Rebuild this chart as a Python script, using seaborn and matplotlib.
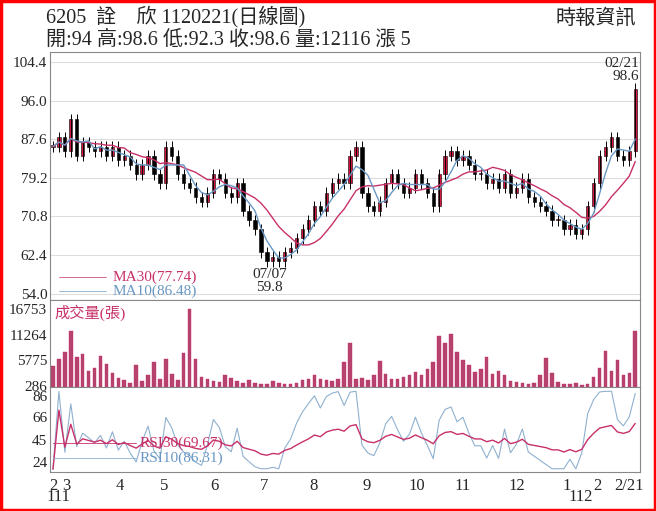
import numpy as np
import pandas as pd
import seaborn as sns
import matplotlib.pyplot as plt

# closes read roughly every ~3 trading days, Feb 2022 -> 2023/02/21
closes = [86, 88, 85, 92, 84, 87, 86, 85, 86, 84, 86, 83, 84, 82, 80, 82, 84, 80, 78, 86,
          84, 80, 78, 77, 75, 74, 76, 80, 79, 76, 75, 78, 72, 70, 68, 63, 61, 62, 61, 63,
          64, 66, 68, 70, 73, 72, 76, 78, 79, 78, 84, 86, 76, 73, 72, 74, 78, 80, 78, 76,
          77, 80, 78, 76, 73, 80, 84, 85, 83, 84, 82, 80, 80, 78, 79, 77, 80, 76, 77, 79,
          75, 74, 73, 72, 70, 70, 68, 69, 67, 68, 73, 78, 84, 86, 88, 84, 83, 85, 98.6]
volumes = [4500, 6000, 7500, 12000, 6500, 7200, 3500, 4000, 6800, 5000, 3000, 2000, 1500, 900, 4800, 1200,
           2600, 5400, 1800, 6000, 2800, 1600, 7400, 16753, 6000, 2200, 1800, 1200, 1000, 2600,
           2000, 1400, 800, 1500, 900, 700, 600, 1300, 900, 700, 600, 800, 1600, 1800, 2500, 1700,
           1500, 1400, 1700, 5500, 9500, 1700, 1900, 1500, 2600, 5600, 2800, 1800, 1700, 2200,
           2700, 3300, 2700, 3800, 5500, 11000, 9500, 11500, 7500, 5800, 4800, 3200, 3800, 6500,
           2800, 3500, 2600, 1400, 1000, 800, 700, 900, 2600, 6200, 3000, 1000, 700, 600, 800,
           500, 700, 2200, 4000, 7800, 3500, 5800, 2700, 3000, 12116]

df = pd.DataFrame({'x': np.arange(len(closes)), 'close': closes, 'vol': volumes})
df['open'] = df['close'].shift(1).fillna(df['close'])
df['ma10'] = df['close'].rolling(4, min_periods=1).mean()
df['ma30'] = df['close'].rolling(10, min_periods=1).mean()
d = df['close'].diff().fillna(0)
for n, name in [(4, 'rsi10'), (10, 'rsi30')]:
    up = d.clip(lower=0).ewm(alpha=1 / n).mean()
    dn = (-d.clip(upper=0)).ewm(alpha=1 / n).mean()
    df[name] = 100 * up / (up + dn + 1e-9)
df['rsi10'] = df['rsi10'].clip(18, 90)
df['rsi30'] = 45 + (df['rsi30'] - 50) * 0.55

sns.set_style('white')
plt.rcParams['font.family'] = ['Liberation Serif', 'Noto Sans CJK TC']
red, mag, blue = '#d4143c', '#c8306a', '#6a98c4'

fig = plt.figure(figsize=(6.56, 5.11), dpi=100)
W, H = 656, 511
def add(y0, y1):
    return fig.add_axes([50 / W, 1 - y1 / H, 590 / W, (y1 - y0) / H])
axp = add(52, 300)
axv = add(300, 387)
axr = add(387, 472)

# candles
up = df['close'] >= df['open']
body_lo = df[['open', 'close']].min(axis=1)
body_hi = df[['open', 'close']].max(axis=1)
axp.vlines(df['x'], body_lo - 1.2, body_hi + 1.2, color='black', lw=0.7)
axp.bar(df['x'], (body_hi - body_lo).clip(lower=0.3), bottom=body_lo, width=0.55,
        color=np.where(up, red, 'black'), edgecolor='black', lw=0.4)
sns.lineplot(data=df, x='x', y='ma30', ax=axp, color=mag, lw=1)
sns.lineplot(data=df, x='x', y='ma10', ax=axp, color=blue, lw=1)
axp.set_ylim(52.6, 106.6)
axp.set_yticks([54.0, 62.4, 70.8, 79.2, 87.6, 96.0, 104.4])
axp.set_yticklabels(['54.0', '62.4', '70.8', '79.2', '87.6', '96.0', '104.4'])
axp.yaxis.grid(True, color='#dddddd', lw=0.8)
axp.plot([1, 9], [57.6, 57.6], color=mag, lw=0.5)
axp.text(10, 57.6, 'MA30(77.74)', color=mag, fontsize=11, va='center')
axp.plot([1, 9], [54.6, 54.6], color=blue, lw=0.5)
axp.text(10, 54.6, 'MA10(86.48)', color=blue, fontsize=11, va='center')
axp.text(36.5, 59.6, '07/07\n59.8', ha='center', va='top', fontsize=11, linespacing=1.0)
axp.text(98.6, 99.8, '02/21\n98.6', ha='right', va='bottom', fontsize=11, linespacing=1.0)

sns.barplot(data=df, x='x', y='vol', ax=axv, native_scale=True, color=mag,
            width=0.6, edgecolor=mag, lw=0.3)
axv.set_ylim(0, 18800)
axv.set_yticks([286, 5775, 11264, 16753])
axv.text(0.3, 16000, '成交量(張)', color=mag, fontsize=11, va='center')

sns.lineplot(data=df, x='x', y='rsi10', ax=axr, color='#8fb0cf', lw=0.8)
sns.lineplot(data=df, x='x', y='rsi30', ax=axr, color=mag, lw=1)
axr.set_ylim(15, 94)
axr.set_yticks([24, 45, 66, 86])
axr.plot([0, 14], [42, 42], color=mag, lw=0.6)
axr.text(14.5, 42, 'RSI30(69.67)', color=mag, fontsize=11, va='center')
axr.plot([0, 14], [28, 28], color='#8fb0cf', lw=0.6)
axr.text(14.5, 28, 'RSI10(86.31)', color=blue, fontsize=11, va='center')

pos = [0, 2.2, 11.3, 18.7, 27.2, 35.5, 43.8, 52.8, 61.3, 69, 78, 86.5, 91.7, 97]
labs = ['2', '3', '4', '5', '6', '7', '8', '9', '10', '11', '12', '1', '2', '2/21']
for ax in (axp, axv, axr):
    ax.set_xlim(-0.5, 98.8)
    ax.set_xlabel('')
    ax.set_ylabel('')
    ax.tick_params(axis='y', labelsize=11, length=0, pad=2)
    for s in ax.spines.values():
        s.set_color('#888888')
    ax.set_xticks(pos)
    ax.tick_params(axis='x', length=3, labelbottom=False)
axr.tick_params(axis='x', labelbottom=True, labelsize=12, pad=1)
axr.set_xticklabels(labs)
fig.text(46 / W, 1 - 497 / H, '111', fontsize=12, va='center')
fig.text(568 / W, 1 - 497 / H, '112', fontsize=12, va='center')

fig.text(46 / W, 1 - 17 / H, '6205  詮    欣 1120221(日線圖)', fontsize=14.5, va='center')
fig.text(46 / W, 1 - 40 / H, '開:94 高:98.6 低:92.3 收:98.6 量:12116 漲 5', fontsize=14.5, va='center')
fig.text(636 / W, 1 - 19 / H, '時報資訊', fontsize=14.5, va='center', ha='right')
fig.patches.append(plt.Rectangle((0.002, 0.002), 0.996, 0.996, transform=fig.transFigure,
                                 fill=False, edgecolor='red', lw=2.5))

plt.savefig('out.png', dpi=100)
plt.close()
